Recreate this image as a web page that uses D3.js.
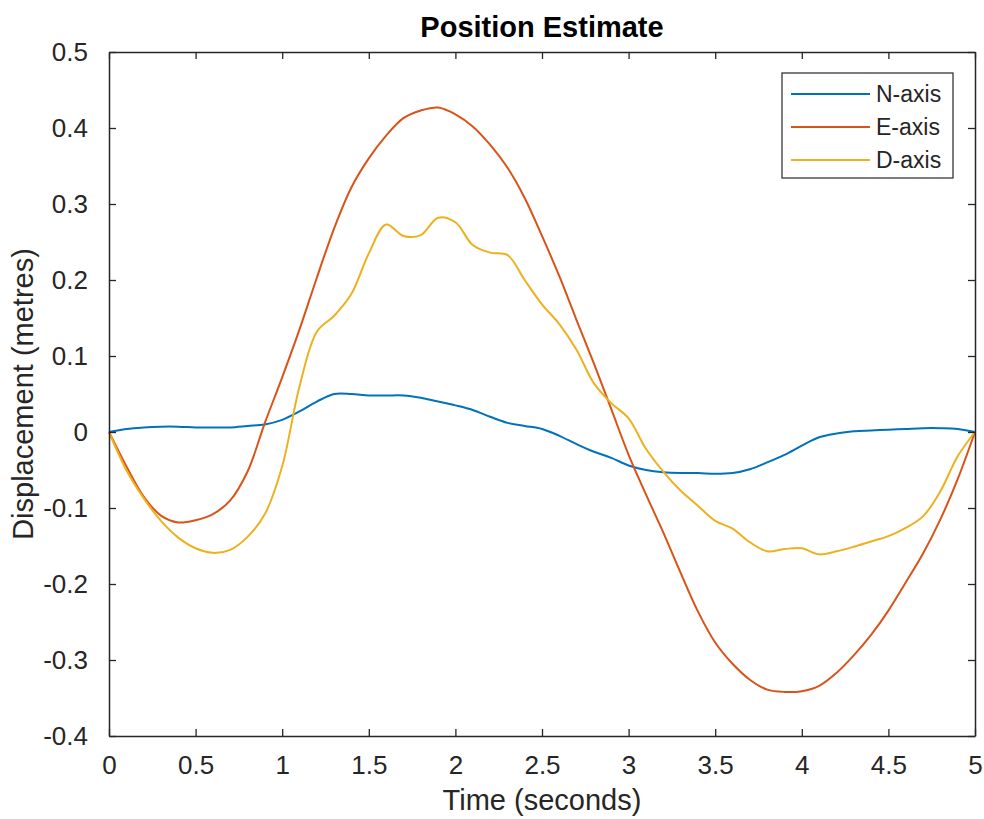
<!DOCTYPE html>
<html>
<head>
<meta charset="utf-8">
<script src="https://cdn.jsdelivr.net/npm/d3@7"></script>
<style>
body { margin: 0; background: #fff; }
text { font-family: "Liberation Sans", Arial, Helvetica, sans-serif; fill: #262626; }
</style>
</head>
<body>
<script>
// time axis (seconds)
var time = [0,0.1,0.2,0.3,0.4,0.5,0.6,0.7,0.8,0.9,1,1.1,1.2,1.3,1.4,1.5,1.6,1.7,1.8,1.9,2,2.1,2.2,2.3,2.4,2.5,2.6,2.7,2.8,2.9,3,3.1,3.2,3.3,3.4,3.5,3.6,3.7,3.8,3.9,4,4.1,4.2,4.3,4.4,4.5,4.6,4.7,4.8,4.9,5];

var nAxis = [0,0.004,0.006,0.007,0.007,0.006,0.006,0.006,0.008,0.010,0.016,0.027,0.040,0.050,0.050,0.048,0.048,0.048,0.045,0.040,0.035,0.029,0.020,0.012,0.008,0.004,-0.005,-0.016,-0.026,-0.034,-0.044,-0.050,-0.053,-0.054,-0.054,-0.055,-0.054,-0.049,-0.040,-0.030,-0.018,-0.007,-0.002,0.001,0.002,0.003,0.004,0.005,0.005,0.004,0];

var eAxis = [0,-0.045,-0.085,-0.110,-0.119,-0.116,-0.108,-0.090,-0.052,0.012,0.072,0.135,0.203,0.268,0.322,0.360,0.390,0.413,0.423,0.427,0.418,0.402,0.378,0.348,0.308,0.258,0.205,0.147,0.090,0.030,-0.030,-0.082,-0.132,-0.185,-0.236,-0.277,-0.305,-0.326,-0.339,-0.342,-0.341,-0.334,-0.317,-0.294,-0.267,-0.235,-0.198,-0.160,-0.115,-0.062,0];

var dAxis = [0,-0.050,-0.087,-0.117,-0.139,-0.153,-0.159,-0.155,-0.138,-0.108,-0.045,0.060,0.132,0.153,0.182,0.235,0.273,0.258,0.259,0.282,0.276,0.246,0.236,0.233,0.200,0.168,0.142,0.108,0.064,0.038,0.018,-0.022,-0.052,-0.077,-0.097,-0.117,-0.127,-0.145,-0.157,-0.154,-0.153,-0.161,-0.157,-0.151,-0.144,-0.137,-0.126,-0.111,-0.078,-0.032,0];

var seriesNames = ["N-axis","E-axis","D-axis"];
var seriesColors = ["#0072BD","#D95319","#EDB120"];
var xTicks = [0,0.5,1,1.5,2,2.5,3,3.5,4,4.5,5];
var yTicks = [-0.4,-0.3,-0.2,-0.1,0,0.1,0.2,0.3,0.4,0.5];

var W = 984, H = 819;
// plot box (note: "top" is reserved on window, so prefix these)
var pLeft = 109, pRight = 975, pTop = 52, pBottom = 736;

var svg = d3.select("body").append("svg")
	.attr("width", W)
	.attr("height", H);

var x = d3.scaleLinear().domain([0,5]).range([pLeft,pRight]);
var y = d3.scaleLinear().domain([-0.4,0.5]).range([pBottom,pTop]);

//Lines
var all = [nAxis, eAxis, dAxis];
var line = d3.line()
	.x(function(d,i){ return x(time[i]); })
	.y(function(d){ return y(d); })
	.curve(d3.curveCatmullRom.alpha(0.5));

for (var i=0;i<all.length;i++){
	svg.append("path")
		.attr("d", line(all[i]))
		.attr("fill","none")
		.attr("stroke",seriesColors[i])
		.attr("stroke-width",2);
}

//Axes (ticks inward on all sides, like matlab box)
var fmt = function(d){ return String(d); };
svg.append("g").attr("transform","translate(0,"+pBottom+")")
	.call(d3.axisBottom(x).tickValues(xTicks).tickFormat(fmt).tickSizeInner(-7).tickSizeOuter(0).tickPadding(20));
svg.append("g").attr("transform","translate(0,"+pTop+")")
	.call(d3.axisTop(x).tickValues(xTicks).tickFormat("").tickSizeInner(-7).tickSizeOuter(0));
svg.append("g").attr("transform","translate("+pLeft+",0)")
	.call(d3.axisLeft(y).tickValues(yTicks).tickFormat(fmt).tickSizeInner(-7).tickSizeOuter(0).tickPadding(21));
svg.append("g").attr("transform","translate("+pRight+",0)")
	.call(d3.axisRight(y).tickValues(yTicks).tickFormat("").tickSizeInner(-7).tickSizeOuter(0));

svg.selectAll(".domain").attr("stroke","#262626").attr("stroke-width",1.5);
svg.selectAll(".tick line").attr("stroke","#262626").attr("stroke-width",1.3);
svg.selectAll(".tick text")
	.attr("font-size","26px")
	.attr("font-family","'Liberation Sans', Arial, sans-serif")
	.attr("fill","#262626");

//Title and labels
svg.append("text")
	.attr("x",(pLeft+pRight)/2)
	.attr("y",37)
	.attr("text-anchor","middle")
	.attr("font-size","29px")
	.attr("font-weight","bold")
	.style("fill","#000")
	.text("Position Estimate");

svg.append("text")
	.attr("x",(pLeft+pRight)/2)
	.attr("y",810)
	.attr("text-anchor","middle")
	.attr("font-size","29px")
	.text("Time (seconds)");

svg.append("text")
	.attr("transform","translate(33,"+((pTop+pBottom)/2)+") rotate(-90)")
	.attr("text-anchor","middle")
	.attr("font-size","29px")
	.text("Displacement (metres)");

//Legend
var legend = svg.append("g");
legend.append("rect")
	.attr("x",782).attr("y",73)
	.attr("width",171).attr("height",105)
	.attr("fill","#fff")
	.attr("stroke","#262626")
	.attr("stroke-width",1.2);
var rowY = [94,127,160];
for (var i=0;i<seriesNames.length;i++){
	legend.append("line")
		.attr("x1",791).attr("x2",870)
		.attr("y1",rowY[i]).attr("y2",rowY[i])
		.attr("stroke",seriesColors[i])
		.attr("stroke-width",2);
	legend.append("text")
		.attr("x",876)
		.attr("y",rowY[i])
		.attr("dy","0.35em")
		.attr("font-size","23px")
		.text(seriesNames[i]);
}
</script>
</body>
</html>
